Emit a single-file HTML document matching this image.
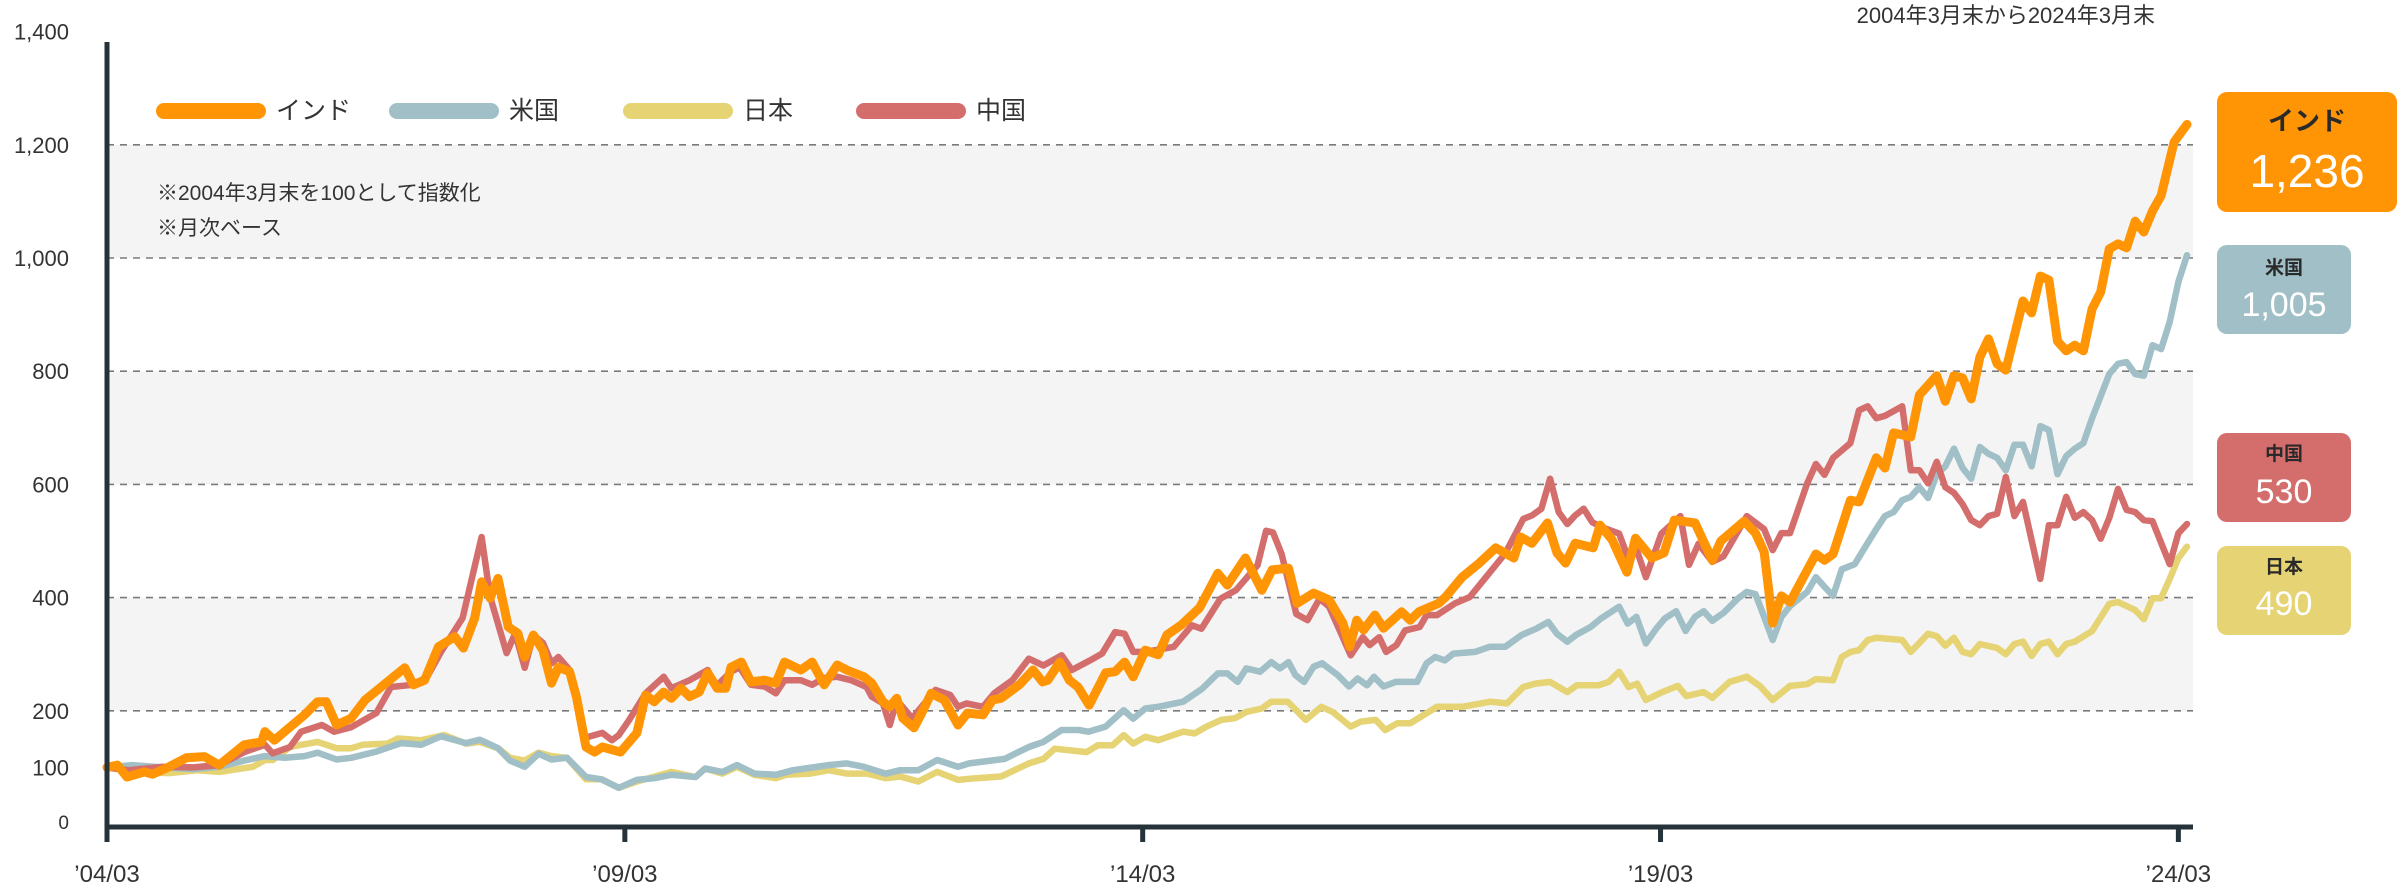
<!DOCTYPE html>
<html><head><meta charset="utf-8">
<style>
html,body{margin:0;padding:0;background:#fff;}
svg{display:block;font-family:"Liberation Sans","Noto Sans CJK JP",sans-serif;}
</style></head>
<body>
<svg id="chart" width="2398" height="888" viewBox="0 0 2398 888" xmlns="http://www.w3.org/2000/svg">
  <g id="bands"></g>
  <g id="grid"></g>
  <g id="yticks"></g>
  <g id="xticks"></g>
  <g id="series"></g>
  <line x1="107" y1="42" x2="107" y2="830" stroke="#253239" stroke-width="5"/>
  <line x1="105" y1="827" x2="2193" y2="827" stroke="#253239" stroke-width="5"/>
  <text x="2155" y="23" text-anchor="end" font-size="22" fill="#333">2004年3月末から2024年3月末</text>
  <g font-size="21" fill="#333">
    <text x="157" y="200">※2004年3月末を100として指数化</text>
    <text x="157" y="235">※月次ベース</text>
  </g>
  <g id="legend"></g>
  <g id="endlabels"></g>
</svg>
<script>
const NS = "http://www.w3.org/2000/svg";
const yTickValues = [0, 100, 200, 400, 600, 800, 1000, 1200, 1400];
const yTickLabels = ["0", "100", "200", "400", "600", "800", "1,000", "1,200", "1,400"];
const gridValues = [200, 400, 600, 800, 1000, 1200];
const xTickMonths = [0, 60, 120, 180, 240];
const xTickLabels = ["’04/03", "’09/03", "’14/03", "’19/03", "’24/03"];
const seriesNames = ["日本", "米国", "中国", "インド"];
const seriesColors = ["#E5D374", "#A0BFC6", "#D46E6C", "#FF9505"];
const endValues = [490, 1005, 530, 1236];

const indiaMonths = [0,1.2,2.3,4.3,5.3,7.2,9.2,11.3,13,15.9,17.9,18.3,19.4,22.9,24.4,25.4,26.6,28.3,29.9,34.5,35.5,36.8,38.4,40.3,41.3,42.6,43.4,44.4,45.3,46.5,47.6,48.4,49.4,50.5,51.5,52.3,53.6,54.4,55.5,56.5,57.4,59.5,61.4,62.4,63.4,64.5,65.4,66.5,67.5,68.6,69.6,70.7,71.7,72.3,73.5,74.6,76.2,77.5,78.5,80.4,81.7,83.1,84.6,85.7,87.7,88.6,89.9,90.7,91.5,92.2,93.5,94.4,95.5,97,98.6,99.7,101.5,102.6,103.6,105.7,107.3,108.4,109,110.4,111.5,112.5,113.8,115.7,116.8,117.9,118.9,120.3,121.8,122.8,124.5,126.6,128.7,129.8,131.9,133.8,135,136.9,137.9,139.8,141.6,143.2,144,144.8,145.6,146.9,147.9,150,151,152,154.3,155.1,157,159,160.9,163,163.8,165.1,166.9,168,169,170.1,172.2,173,174.4,176.1,177.1,179,180.4,181.6,184,186,187,189.7,191,192,193,194,195,198,199,200,202,203,205,206,207,209,210,212,213,214,215,216,217,218,219,220,222,223,224,225,226,227,228,229,230,231,232,233,234,235,236,237,238,239.5,241];
const indiaValues = [100,104,83,92,88,101,117,119,104,140,145,163,148,193,216,216,175,187,219,276,246,254,313,331,311,364,428,399,434,348,337,295,334,307,249,277,269,224,136,127,136,127,161,228,216,233,222,240,225,233,267,240,240,277,286,251,254,249,286,272,286,246,281,272,260,249,216,207,222,187,170,196,231,219,175,196,193,219,222,246,272,251,254,286,254,242,210,267,269,286,260,307,299,334,352,382,443,422,470,413,449,452,390,408,396,355,313,360,343,369,346,375,360,375,390,401,436,461,488,470,507,496,532,479,461,496,488,528,502,445,505,470,479,537,532,466,500,535,514,481,355,403,392,477,466,477,572,569,647,629,691,684,758,792,747,792,788,751,825,857,813,802,924,903,968,961,853,836,846,836,910,940,1016,1025,1018,1065,1046,1083,1110,1205,1236];

const usMonths = [0,2.9,5.4,10,13,15.9,18.3,20.6,22.9,24.4,26.6,28.3,31.2,34.1,36.4,38.7,41.6,43.2,45.3,46.7,48.4,50,51.5,53.3,55.5,57.3,59.3,61.4,63.4,65.4,68.2,69.3,71.3,73,75,77.5,79.5,83.6,85.7,87.7,90.2,91.9,94,96.2,98.6,99.9,104,106.8,108.5,110.6,112.6,113.7,115.7,117.8,118.9,120.3,121.8,124.7,126.9,128.7,129.8,131,132,133.6,134.9,135.9,136.9,137.7,138.7,139.8,140.8,142.6,143.9,144.9,146,146.8,147.9,149.3,151.8,152.9,153.9,155,156,158.5,160.2,162,163.9,165.6,167,168,169.2,170.2,171.9,173.1,175.2,176.2,177.2,178.3,179.5,180.5,181.8,182.9,184,185,186,187.3,189,190,191,192,193,194,195,197,198,199,200,201,202.5,203.5,205,206,207,208,209,210,211,212,213,214,215,216,217,218,219,220,221,222,223,224,225,226,227,228,229,230,232,233,234,235,236,237,238,239,240,241];
const usValues = [100,104,101,97,101,112,120,117,120,126,114,117,128,143,140,155,143,149,134,112,101,124,114,117,83,79,64,78,81,87,83,98,92,104,89,87,95,104,107,101,89,95,95,113,101,107,115,136,145,166,166,163,172,201,186,204,207,216,239,266,266,251,275,269,286,275,286,263,251,278,284,263,243,257,245,260,243,251,251,284,295,289,301,304,313,313,334,345,357,336,322,334,348,363,384,354,366,319,345,363,376,341,366,376,359,373,399,410,406,366,325,366,385,410,436,419,403,450,459,484,521,544,551,572,578,595,576,618,632,663,629,610,666,654,647,625,670,670,632,703,696,618,650,663,673,717,795,813,816,795,792,846,839,887,958,1005];

const chinaMonths = [0,2.5,6.4,10,13,15.9,18.3,19.2,21.2,22.5,24.9,26.3,28.3,31.2,32.9,35.4,37.1,38.7,41.2,43.4,44.4,46.3,47.3,48.4,49.4,50.5,51.5,52.3,53.6,54.4,55.3,57.4,58.5,59.3,60.5,62.4,64.5,65.4,67.5,69.6,70.5,72.3,73.3,74.6,76.2,77.5,78.5,80.4,81.7,83.1,84.6,86.2,88,88.6,89.9,90.7,91.5,93.3,96,97.7,98.6,99.6,101.5,102.8,104.9,106.8,108.5,110.6,111.8,113.9,115.3,116.8,117.9,118.9,120.3,123.6,125.7,126.8,129,130.8,133.3,134.3,135.1,136.1,137.8,139.1,140.5,141.6,143,144.1,145.5,146.3,147.4,148.2,149.4,150.4,152.1,152.9,154.1,156.2,157.9,159.5,162,164.1,165.1,166.2,167.2,168.2,169.2,170.1,171.1,172.1,173.1,175.2,176.2,177.2,178.3,180.1,182.3,183.3,184.4,186,187.3,190,192,193,194,195,197,198,199,200,202,203,204,205,206,208,209,210,211,212,213,214,215,216,217,218,219,220,221,222,224,225,226,227,228,229,230,231,232,233,234,235,236,237,239,240,241];
const chinaValues = [100,95,101,100,104,127,140,125,136,163,175,163,171,196,242,246,260,304,364,507,401,302,337,276,334,320,284,295,272,231,152,161,148,157,184,231,260,240,254,272,242,269,277,246,243,231,254,254,246,258,260,254,242,225,213,175,219,187,237,228,207,213,207,231,254,292,280,298,272,289,301,339,336,304,304,313,351,345,398,413,457,518,515,477,371,360,398,384,336,298,330,316,330,304,316,342,348,369,369,390,401,431,478,539,545,557,610,551,530,545,557,533,525,513,472,486,436,513,544,458,495,463,473,544,521,484,514,514,602,636,617,647,673,731,738,717,721,738,625,625,602,640,595,585,565,537,528,544,548,613,544,569,433,528,528,578,541,551,537,504,541,592,555,551,537,535,459,514,530];

const japanMonths = [0,2.9,7.2,10.5,13,16.9,18.3,19.2,21.2,22.5,24.4,26.6,28.3,29.6,32.5,33.7,36.4,39.1,41.6,43.2,45.3,46.7,48.4,50,51.5,53.3,55.5,57.3,59.3,61.4,65.4,68.2,69.3,71.3,73,75,77.5,78.7,81.5,83.6,85.7,88.1,90.2,91.9,94,96.2,98.6,100.7,103.6,106.8,108.5,109.8,113.5,114.8,116.5,117.8,118.9,120.3,121.8,124.7,126,127.4,129.1,130.7,132,133.8,134.9,136.8,138.9,140.7,142,144.1,145.3,147,148.1,149.5,151,154.1,157,160.3,162.2,164.1,165.5,167.2,169.2,170.3,172.8,174,175.2,176.3,177.3,178.3,180.2,182,183,185,186,188,190,191.5,193,195,197,198,200,201,202,203,204,205,208,209,211,212,213,214,215,216,217,219,220,221,222,223,224,225,226,227,228,230,232,233,235,236,237,238,239,240,241];
const japanValues = [100,92,90,95,92,101,113,113,136,140,145,134,134,140,142,151,148,157,142,145,134,117,112,126,120,117,79,79,64,75,92,83,98,89,101,87,81,87,89,95,89,89,81,84,75,92,78,81,84,107,115,133,127,139,139,157,142,154,148,163,160,172,184,187,198,204,216,216,184,207,198,172,181,184,166,178,178,207,207,216,213,242,248,251,233,245,245,251,269,242,248,219,233,244,226,233,223,251,260,244,219,244,247,256,254,295,304,307,325,329,325,304,336,332,315,329,304,300,318,311,300,318,322,297,318,322,300,318,322,341,389,392,378,362,399,399,433,470,490];

const seriesMonths = [japanMonths, usMonths, chinaMonths, indiaMonths];
const seriesValues = [japanValues, usValues, chinaValues, indiaValues];

const X0 = 107, X1 = 2187, MMAX = 241;
const Y0 = 824, PXPER = 0.566;
const PLOT_RIGHT = 2193;
function xScale(m){ return X0 + m * (X1 - X0) / MMAX; }
function yScale(v){ return Y0 - v * PXPER; }

const bandsG = document.getElementById('bands');
[[200,400],[600,800],[1000,1200]].forEach(function(b){
  const r = document.createElementNS(NS,'rect');
  
  
  r.setAttribute('x', X0); r.setAttribute('width', PLOT_RIGHT - X0);
  r.setAttribute('y', yScale(b[1])); r.setAttribute('height', yScale(b[0]) - yScale(b[1]));
  r.setAttribute('fill','#F4F4F4');
  bandsG.appendChild(r);
});
const gridG = document.getElementById('grid');
gridValues.forEach(function(v){
  const l = document.createElementNS(NS,'line');
  
  
  l.setAttribute('x1', X0); l.setAttribute('x2', PLOT_RIGHT);
  l.setAttribute('y1', yScale(v)); l.setAttribute('y2', yScale(v));
  l.setAttribute('stroke','#7a7a7a'); l.setAttribute('stroke-width','1.6');
  l.setAttribute('stroke-dasharray','7 6');
  gridG.appendChild(l);
});
const ytG = document.getElementById('yticks');
yTickValues.forEach(function(v,i){
  const t = document.createElementNS(NS,'text');
  
  
  t.setAttribute('x', 69); t.setAttribute('y', yScale(v) + (v === 0 ? 5 : 8));
  t.setAttribute('text-anchor','end'); t.setAttribute('font-size', v === 0 ? '19' : '22');
  t.setAttribute('fill','#333');
  t.textContent = yTickLabels[i];
  ytG.appendChild(t);
});
const xtG = document.getElementById('xticks');
xTickMonths.forEach(function(m,i){
  const x = xScale(m);
  const l = document.createElementNS(NS,'line');
  
  
  l.setAttribute('x1', x); l.setAttribute('x2', x);
  l.setAttribute('y1', 825); l.setAttribute('y2', 842);
  l.setAttribute('stroke','#253239'); l.setAttribute('stroke-width','5');
  xtG.appendChild(l);
  const t = document.createElementNS(NS,'text');
  
  
  t.setAttribute('x', x); t.setAttribute('y', 882);
  t.setAttribute('text-anchor','middle'); t.setAttribute('font-size','24');
  t.setAttribute('fill','#333');
  t.textContent = xTickLabels[i];
  xtG.appendChild(t);
});
const sG = document.getElementById('series');
const seriesKeys = ['japan','us','china','india'];
seriesValues.forEach(function(vals,i){
  const ms = seriesMonths[i];
  let d = '';
  for (let k = 0; k < vals.length; k++){
    d += (k ? 'L' : 'M') + xScale(ms[k]).toFixed(1) + ' ' + yScale(vals[k]).toFixed(1);
  }
  const p = document.createElementNS(NS,'path');
  
  
  p.setAttribute('d', d);
  p.setAttribute('fill','none');
  p.setAttribute('stroke', seriesColors[i]);
  p.setAttribute('stroke-width', i === 3 ? '9' : '6.5');
  p.setAttribute('stroke-linejoin','round');
  p.setAttribute('stroke-linecap','round');
  sG.appendChild(p);
});
// legend
const legendOrder = [3,1,0,2];
const legendX = [156, 389, 623, 856];
const lg = document.getElementById('legend');
legendOrder.forEach(function(si,i){
  const g = document.createElementNS(NS,'g');
  
  
  const l = document.createElementNS(NS,'line');
  
  
  l.setAttribute('x1', legendX[i] + 8); l.setAttribute('x2', legendX[i] + 102);
  l.setAttribute('y1', 111); l.setAttribute('y2', 111);
  l.setAttribute('stroke', seriesColors[si]); l.setAttribute('stroke-width','16');
  l.setAttribute('stroke-linecap','round');
  g.appendChild(l);
  const t = document.createElementNS(NS,'text');
  
  
  t.setAttribute('x', legendX[i] + 120); t.setAttribute('y', 119);
  t.setAttribute('font-size','25'); t.setAttribute('fill','#333');
  t.textContent = seriesNames[si];
  g.appendChild(t);
  lg.appendChild(g);
});
// end labels
const boxes = [
  {si:3, x:2217, y:92, w:180, h:120, nameSize:26, nameY:130, valSize:46, valY:187},
  {si:1, x:2217, y:245, w:134, h:89, nameSize:19, nameY:274, valSize:34, valY:316},
  {si:2, x:2217, y:433, w:134, h:89, nameSize:19, nameY:460, valSize:34, valY:503},
  {si:0, x:2217, y:546, w:134, h:89, nameSize:19, nameY:573, valSize:34, valY:615}
];
const eg = document.getElementById('endlabels');
boxes.forEach(function(b){
  const g = document.createElementNS(NS,'g');
  
  
  const r = document.createElementNS(NS,'rect');
  
  
  r.setAttribute('x', b.x); r.setAttribute('y', b.y);
  r.setAttribute('width', b.w); r.setAttribute('height', b.h);
  r.setAttribute('rx', 10); r.setAttribute('fill', seriesColors[b.si]);
  g.appendChild(r);
  const n = document.createElementNS(NS,'text');
  
  
  n.setAttribute('x', b.x + b.w/2); n.setAttribute('y', b.nameY);
  n.setAttribute('text-anchor','middle'); n.setAttribute('font-size', b.nameSize);
  n.setAttribute('font-weight','bold'); n.setAttribute('fill','#2a2a2a');
  n.textContent = seriesNames[b.si];
  g.appendChild(n);
  const v = document.createElementNS(NS,'text');
  
  
  v.setAttribute('x', b.x + b.w/2); v.setAttribute('y', b.valY);
  v.setAttribute('text-anchor','middle'); v.setAttribute('font-size', b.valSize);
  v.setAttribute('fill','#fff');
  v.textContent = endValues[b.si].toLocaleString('en-US');
  g.appendChild(v);
  eg.appendChild(g);
});
</script>
</body></html>
